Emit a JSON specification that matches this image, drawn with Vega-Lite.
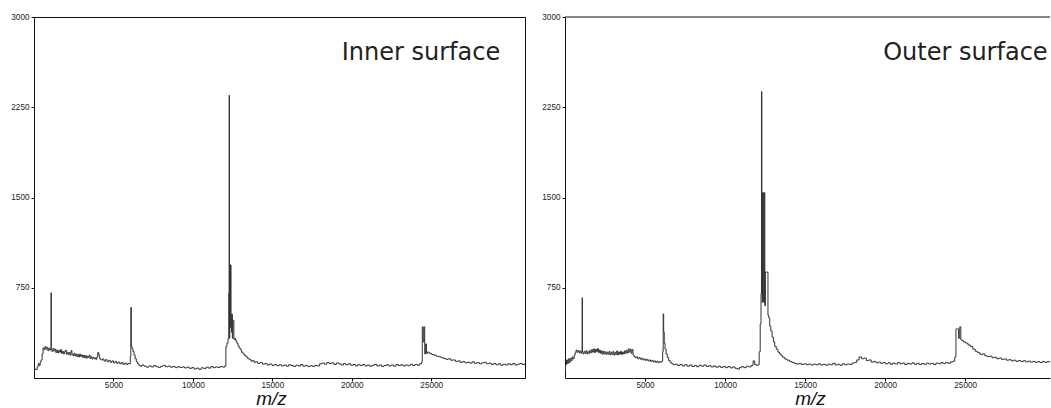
{
 "$schema": "https://vega.github.io/schema/vega-lite/v6.json",
 "padding": {"left": 10, "top": 11, "right": 0, "bottom": 0},
 "background": "white",
 "spacing": 15,
 "config": {
  "view": {"stroke": "#111", "strokeWidth": 1},
  "axis": {"grid": false, "format": "d", "labelFont": "Liberation Sans", "labelFontSize": 8.2, "labelColor": "#222", "tickSize": 3, "labelPadding": 2, "tickColor": "#111", "domainColor": "#111", "titleFont": "Liberation Sans", "titleFontStyle": "italic", "titleFontWeight": "normal", "titleFontSize": 19, "titleColor": "#111"},
  "axisX": {"labelPadding": 0}
 },
 "datasets": {
  "inner": [
   {"m":0,"v":60},{"m":80,"v":75},{"m":160,"v":70},{"m":240,"v":95},{"m":300,"v":120},{"m":360,"v":105},{"m":420,"v":135},{"m":480,"v":150},{"m":540,"v":200},{"m":600,"v":250},{"m":660,"v":235},{"m":720,"v":262},{"m":780,"v":240},{"m":840,"v":255},{"m":900,"v":228},{"m":960,"v":248},{"m":1020,"v":232},{"m":1060,"v":240},{"m":1080,"v":708},{"m":1100,"v":238},{"m":1160,"v":220},{"m":1220,"v":246},{"m":1280,"v":225},{"m":1340,"v":240},{"m":1400,"v":212},{"m":1460,"v":232},{"m":1520,"v":208},{"m":1580,"v":228},{"m":1640,"v":214},{"m":1700,"v":236},{"m":1760,"v":205},{"m":1820,"v":222},{"m":1880,"v":200},{"m":1940,"v":218},{"m":2000,"v":232},{"m":2060,"v":198},{"m":2120,"v":215},{"m":2180,"v":195},{"m":2240,"v":212},{"m":2300,"v":190},{"m":2360,"v":228},{"m":2420,"v":196},{"m":2480,"v":185},{"m":2540,"v":206},{"m":2600,"v":184},{"m":2660,"v":200},{"m":2720,"v":178},{"m":2780,"v":196},{"m":2840,"v":175},{"m":2900,"v":198},{"m":2960,"v":180},{"m":3020,"v":192},{"m":3080,"v":172},{"m":3140,"v":188},{"m":3200,"v":168},{"m":3260,"v":186},{"m":3320,"v":165},{"m":3380,"v":182},{"m":3440,"v":170},{"m":3500,"v":190},{"m":3560,"v":162},{"m":3620,"v":176},{"m":3680,"v":158},{"m":3740,"v":172},{"m":3800,"v":160},{"m":3860,"v":168},{"m":3920,"v":155},{"m":3980,"v":175},{"m":4040,"v":212},{"m":4100,"v":190},{"m":4160,"v":160},{"m":4250,"v":150},{"m":4350,"v":158},{"m":4450,"v":140},{"m":4550,"v":152},{"m":4650,"v":136},{"m":4750,"v":146},{"m":4850,"v":130},{"m":4950,"v":142},{"m":5050,"v":126},{"m":5150,"v":138},{"m":5250,"v":122},{"m":5350,"v":132},{"m":5450,"v":118},{"m":5550,"v":128},{"m":5650,"v":114},{"m":5750,"v":124},{"m":5850,"v":112},{"m":5950,"v":120},{"m":6040,"v":118},{"m":6080,"v":180},{"m":6110,"v":586},{"m":6140,"v":262},{"m":6200,"v":245},{"m":6260,"v":220},{"m":6330,"v":190},{"m":6400,"v":160},{"m":6480,"v":135},{"m":6560,"v":118},{"m":6650,"v":105},{"m":6750,"v":98},{"m":6850,"v":108},
   {"m":7000,"v":98},{"m":7150,"v":90},{"m":7300,"v":100},{"m":7450,"v":92},{"m":7600,"v":104},{"m":7750,"v":94},{"m":7900,"v":88},{"m":8050,"v":97},{"m":8200,"v":105},{"m":8350,"v":93},{"m":8500,"v":99},{"m":8650,"v":90},{"m":8800,"v":96},{"m":8950,"v":86},{"m":9100,"v":94},{"m":9250,"v":88},{"m":9400,"v":92},{"m":9550,"v":84},{"m":9700,"v":90},{"m":9850,"v":80},{"m":10000,"v":86},{"m":10150,"v":75},{"m":10300,"v":82},{"m":10450,"v":72},{"m":10600,"v":85},{"m":10750,"v":78},{"m":10900,"v":90},{"m":11050,"v":82},{"m":11200,"v":95},{"m":11350,"v":86},{"m":11500,"v":92},{"m":11650,"v":88},{"m":11800,"v":96},{"m":11950,"v":90},{"m":12050,"v":100},
   {"m":12100,"v":260},{"m":12180,"v":290},{"m":12240,"v":330},{"m":12270,"v":700},{"m":12290,"v":2350},{"m":12310,"v":330},{"m":12330,"v":940},{"m":12350,"v":420},{"m":12370,"v":940},{"m":12390,"v":940},{"m":12410,"v":530},{"m":12440,"v":380},{"m":12470,"v":530},{"m":12500,"v":330},{"m":12530,"v":480},{"m":12560,"v":480},{"m":12600,"v":320},{"m":12650,"v":330},{"m":12720,"v":310},{"m":12800,"v":290},{"m":12880,"v":265},{"m":12950,"v":250},
   {"m":13000,"v":240},{"m":13100,"v":215},{"m":13200,"v":200},{"m":13300,"v":185},{"m":13400,"v":175},{"m":13500,"v":160},{"m":13600,"v":155},{"m":13700,"v":140},{"m":13800,"v":145},{"m":13900,"v":130},{"m":14000,"v":135},{"m":14150,"v":122},{"m":14300,"v":128},{"m":14450,"v":115},{"m":14600,"v":120},{"m":14750,"v":108},{"m":14900,"v":116},{"m":15050,"v":105},{"m":15200,"v":112},{"m":15350,"v":102},{"m":15500,"v":110},{"m":15650,"v":100},{"m":15800,"v":108},{"m":15950,"v":98},{"m":16100,"v":110},{"m":16250,"v":104},{"m":16400,"v":96},{"m":16550,"v":106},{"m":16700,"v":100},{"m":16850,"v":112},{"m":17000,"v":98},{"m":17150,"v":105},{"m":17300,"v":95},{"m":17450,"v":102},{"m":17600,"v":96},{"m":17750,"v":104},{"m":17900,"v":100},{"m":18050,"v":118},{"m":18200,"v":124},{"m":18350,"v":115},{"m":18500,"v":128},{"m":18650,"v":120},{"m":18800,"v":126},{"m":18950,"v":112},{"m":19100,"v":125},{"m":19250,"v":118},{"m":19400,"v":108},{"m":19550,"v":120},{"m":19700,"v":110},{"m":19850,"v":118},{"m":20000,"v":106},{"m":20150,"v":112},{"m":20300,"v":100},{"m":20450,"v":110},{"m":20600,"v":104},{"m":20750,"v":112},{"m":20900,"v":100},{"m":21050,"v":108},{"m":21200,"v":98},{"m":21350,"v":106},{"m":21500,"v":112},{"m":21650,"v":100},{"m":21800,"v":108},{"m":21950,"v":96},{"m":22100,"v":104},{"m":22250,"v":110},{"m":22400,"v":100},{"m":22550,"v":108},{"m":22700,"v":98},{"m":22850,"v":112},{"m":23000,"v":104},{"m":23150,"v":110},{"m":23300,"v":100},{"m":23450,"v":108},{"m":23600,"v":102},{"m":23750,"v":114},{"m":23900,"v":104},{"m":24050,"v":112},{"m":24200,"v":106},{"m":24350,"v":118},{"m":24420,"v":130},
   {"m":24450,"v":425},{"m":24520,"v":300},{"m":24560,"v":425},{"m":24620,"v":200},{"m":24680,"v":283},{"m":24720,"v":205},{"m":24800,"v":215},{"m":24950,"v":205},{"m":25100,"v":195},{"m":25250,"v":190},{"m":25400,"v":180},{"m":25550,"v":176},{"m":25700,"v":168},{"m":25850,"v":162},{"m":26000,"v":155},{"m":26150,"v":160},{"m":26300,"v":148},{"m":26450,"v":150},{"m":26600,"v":138},{"m":26750,"v":142},{"m":26900,"v":130},{"m":27050,"v":136},{"m":27200,"v":126},{"m":27350,"v":132},{"m":27500,"v":124},{"m":27650,"v":135},{"m":27800,"v":122},{"m":27950,"v":128},{"m":28100,"v":118},{"m":28250,"v":126},{"m":28400,"v":130},{"m":28550,"v":118},{"m":28700,"v":124},{"m":28850,"v":112},{"m":29000,"v":120},{"m":29150,"v":110},{"m":29300,"v":118},{"m":29450,"v":106},{"m":29600,"v":115},{"m":29750,"v":108},{"m":29900,"v":118},{"m":30050,"v":110},{"m":30200,"v":120},{"m":30350,"v":108},{"m":30500,"v":115},{"m":30650,"v":120},{"m":30800,"v":112},{"m":30900,"v":118}
  ],
  "outer": [
   {"m":0,"v":60},{"m":60,"v":110},{"m":120,"v":150},{"m":180,"v":120},{"m":240,"v":160},{"m":300,"v":130},{"m":360,"v":165},{"m":420,"v":145},{"m":480,"v":175},{"m":540,"v":160},{"m":600,"v":190},{"m":660,"v":210},{"m":720,"v":232},{"m":780,"v":215},{"m":840,"v":228},{"m":900,"v":210},{"m":960,"v":225},{"m":1020,"v":205},{"m":1060,"v":220},{"m":1080,"v":667},{"m":1100,"v":215},{"m":1160,"v":200},{"m":1220,"v":222},{"m":1280,"v":205},{"m":1340,"v":226},{"m":1400,"v":200},{"m":1460,"v":218},{"m":1520,"v":204},{"m":1580,"v":230},{"m":1640,"v":210},{"m":1700,"v":236},{"m":1760,"v":215},{"m":1820,"v":242},{"m":1880,"v":212},{"m":1940,"v":238},{"m":2000,"v":220},{"m":2060,"v":244},{"m":2120,"v":210},{"m":2180,"v":232},{"m":2240,"v":205},{"m":2300,"v":225},{"m":2360,"v":198},{"m":2420,"v":222},{"m":2480,"v":200},{"m":2540,"v":218},{"m":2600,"v":195},{"m":2660,"v":215},{"m":2720,"v":198},{"m":2780,"v":220},{"m":2840,"v":192},{"m":2900,"v":214},{"m":2960,"v":196},{"m":3020,"v":220},{"m":3080,"v":190},{"m":3140,"v":212},{"m":3200,"v":195},{"m":3260,"v":225},{"m":3320,"v":192},{"m":3380,"v":216},{"m":3440,"v":198},{"m":3500,"v":222},{"m":3560,"v":196},{"m":3620,"v":215},{"m":3680,"v":200},{"m":3740,"v":226},{"m":3800,"v":205},{"m":3860,"v":230},{"m":3920,"v":208},{"m":3980,"v":242},{"m":4040,"v":215},{"m":4100,"v":240},{"m":4160,"v":205},{"m":4220,"v":236},{"m":4280,"v":190},{"m":4350,"v":178},{"m":4420,"v":168},{"m":4500,"v":176},{"m":4580,"v":160},{"m":4660,"v":170},{"m":4740,"v":156},{"m":4820,"v":164},{"m":4900,"v":150},{"m":4980,"v":158},{"m":5060,"v":146},{"m":5140,"v":155},{"m":5220,"v":142},{"m":5300,"v":150},{"m":5380,"v":138},{"m":5460,"v":146},{"m":5540,"v":134},{"m":5620,"v":142},{"m":5700,"v":130},{"m":5780,"v":140},{"m":5860,"v":128},{"m":5940,"v":136},{"m":6020,"v":132},{"m":6080,"v":140},{"m":6120,"v":220},{"m":6150,"v":533},{"m":6180,"v":383},{"m":6220,"v":290},{"m":6280,"v":240},{"m":6350,"v":200},{"m":6430,"v":170},{"m":6520,"v":145},{"m":6620,"v":130},{"m":6720,"v":118},{"m":6820,"v":110},{"m":6950,"v":115},{"m":7100,"v":104},{"m":7250,"v":112},{"m":7400,"v":100},{"m":7550,"v":110},{"m":7700,"v":98},{"m":7850,"v":108},{"m":8000,"v":96},{"m":8150,"v":104},{"m":8300,"v":94},{"m":8450,"v":106},{"m":8600,"v":98},{"m":8750,"v":108},{"m":8900,"v":96},{"m":9050,"v":102},{"m":9200,"v":92},{"m":9350,"v":100},{"m":9500,"v":90},{"m":9650,"v":98},{"m":9800,"v":88},{"m":9950,"v":96},{"m":10100,"v":86},{"m":10250,"v":95},{"m":10400,"v":84},{"m":10550,"v":92},{"m":10700,"v":80},{"m":10850,"v":74},{"m":10950,"v":88},{"m":11100,"v":94},{"m":11250,"v":86},{"m":11400,"v":98},{"m":11550,"v":92},{"m":11700,"v":104},{"m":11800,"v":142},{"m":11900,"v":112},{"m":12000,"v":105},{"m":12100,"v":110},
   {"m":12160,"v":217},{"m":12230,"v":450},{"m":12260,"v":700},{"m":12290,"v":2380},{"m":12310,"v":1540},{"m":12330,"v":630},{"m":12350,"v":1540},{"m":12370,"v":630},{"m":12390,"v":1540},{"m":12410,"v":1540},{"m":12440,"v":630},{"m":12470,"v":1540},{"m":12500,"v":600},{"m":12540,"v":880},{"m":12600,"v":880},{"m":12660,"v":880},{"m":12700,"v":522},{"m":12760,"v":500},{"m":12820,"v":430},{"m":12900,"v":390},{"m":12980,"v":340},{"m":13060,"v":300},{"m":13150,"v":262},{"m":13250,"v":240},{"m":13350,"v":215},{"m":13450,"v":200},{"m":13550,"v":185},{"m":13650,"v":172},{"m":13800,"v":158},{"m":13950,"v":148},{"m":14100,"v":138},{"m":14250,"v":128},{"m":14400,"v":122},{"m":14550,"v":116},{"m":14700,"v":120},{"m":14850,"v":112},{"m":15000,"v":118},{"m":15150,"v":110},{"m":15300,"v":116},{"m":15450,"v":108},{"m":15600,"v":115},{"m":15750,"v":110},{"m":15900,"v":118},{"m":16050,"v":108},{"m":16200,"v":114},{"m":16350,"v":106},{"m":16500,"v":115},{"m":16650,"v":110},{"m":16800,"v":122},{"m":16950,"v":108},{"m":17100,"v":114},{"m":17250,"v":106},{"m":17400,"v":118},{"m":17550,"v":110},{"m":17700,"v":116},{"m":17850,"v":112},{"m":18000,"v":124},{"m":18150,"v":130},{"m":18300,"v":150},{"m":18450,"v":175},{"m":18600,"v":160},{"m":18750,"v":165},{"m":18900,"v":145},{"m":19050,"v":150},{"m":19200,"v":132},{"m":19350,"v":138},{"m":19500,"v":126},{"m":19650,"v":132},{"m":19800,"v":122},{"m":19950,"v":128},{"m":20100,"v":118},{"m":20250,"v":126},{"m":20400,"v":114},{"m":20550,"v":124},{"m":20700,"v":116},{"m":20850,"v":128},{"m":21000,"v":118},{"m":21150,"v":124},{"m":21300,"v":112},{"m":21450,"v":122},{"m":21600,"v":116},{"m":21750,"v":126},{"m":21900,"v":114},{"m":22050,"v":122},{"m":22200,"v":112},{"m":22350,"v":120},{"m":22500,"v":114},{"m":22650,"v":124},{"m":22800,"v":116},{"m":22950,"v":122},{"m":23100,"v":112},{"m":23250,"v":124},{"m":23400,"v":118},{"m":23550,"v":128},{"m":23700,"v":120},{"m":23850,"v":130},{"m":24000,"v":122},{"m":24150,"v":134},{"m":24300,"v":140},{"m":24400,"v":175},
   {"m":24450,"v":408},{"m":24500,"v":408},{"m":24560,"v":408},{"m":24620,"v":330},{"m":24700,"v":425},{"m":24760,"v":317},{"m":24850,"v":310},{"m":24950,"v":300},{"m":25100,"v":290},{"m":25250,"v":275},{"m":25400,"v":262},{"m":25550,"v":240},{"m":25700,"v":222},{"m":25850,"v":210},{"m":26000,"v":196},{"m":26150,"v":200},{"m":26300,"v":185},{"m":26450,"v":178},{"m":26600,"v":182},{"m":26750,"v":168},{"m":26900,"v":172},{"m":27050,"v":160},{"m":27200,"v":166},{"m":27350,"v":155},{"m":27500,"v":158},{"m":27650,"v":148},{"m":27800,"v":152},{"m":27950,"v":142},{"m":28100,"v":148},{"m":28250,"v":138},{"m":28400,"v":146},{"m":28550,"v":136},{"m":28700,"v":144},{"m":28850,"v":134},{"m":29000,"v":140},{"m":29150,"v":132},{"m":29300,"v":138},{"m":29450,"v":130},{"m":29600,"v":136},{"m":29750,"v":128},{"m":29900,"v":138},{"m":30050,"v":130},{"m":30200,"v":136},{"m":30300,"v":132}
  ]
 },
 "hconcat": [
  {
   "width": 491, "height": 361,
   "layer": [
    {
     "data": {"name": "inner"},
     "mark": {"type": "line", "interpolate": "step", "color": "#333", "strokeWidth": 1, "clip": true},
     "encoding": {
      "x": {"field": "m", "type": "quantitative", "scale": {"domain": [0, 30900], "nice": false, "zero": false}, "axis": {"values": [5000, 10000, 15000, 20000, 25000], "title": "m/z", "titleX": 237, "titleY": 26, "titleBaseline": "alphabetic", "titleAlign": "center"}},
      "y": {"field": "v", "type": "quantitative", "scale": {"domain": [0, 3000], "nice": false}, "axis": {"values": [750, 1500, 2250, 3000], "title": null}}
     }
    },
    {
     "data": {"values": [{}]},
     "mark": {"type": "text", "font": "DejaVu Sans", "fontSize": 24, "align": "right", "baseline": "alphabetic", "color": "#222"},
     "encoding": {"x": {"datum": 29340}, "y": {"datum": 2640}, "text": {"value": "Inner surface"}}
    }
   ]
  },
  {
   "width": 485, "height": 361,
   "view": {"stroke": null},
   "layer": [
    {
     "data": {"name": "outer"},
     "mark": {"type": "line", "interpolate": "step", "color": "#333", "strokeWidth": 1, "clip": true},
     "encoding": {
      "x": {"field": "m", "type": "quantitative", "scale": {"domain": [0, 30300], "nice": false, "zero": false}, "axis": {"values": [5000, 10000, 15000, 20000, 25000], "title": "m/z", "titleX": 245, "titleY": 26, "titleBaseline": "alphabetic", "titleAlign": "center"}},
      "y": {"field": "v", "type": "quantitative", "scale": {"domain": [0, 3000], "nice": false}, "axis": {"values": [750, 1500, 2250, 3000], "title": null}}
     }
    },
    {
     "data": {"values": [{}]},
     "mark": {"type": "rule", "color": "#111", "strokeWidth": 1},
     "encoding": {"y": {"datum": 3000}}
    },
    {
     "data": {"values": [{}]},
     "mark": {"type": "text", "font": "DejaVu Sans", "fontSize": 24, "align": "left", "baseline": "alphabetic", "color": "#222"},
     "encoding": {"x": {"datum": 19875}, "y": {"datum": 2640}, "text": {"value": "Outer surface"}}
    }
   ]
  }
 ]
}
